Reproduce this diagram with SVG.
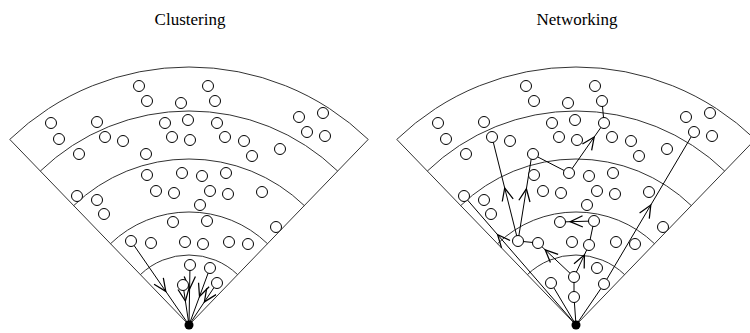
<svg xmlns="http://www.w3.org/2000/svg" xmlns:xlink="http://www.w3.org/1999/xlink" width="750" height="333" viewBox="0 0 750 333">
<style>
.ttl{font-family:"Liberation Serif","Times New Roman",serif;font-size:17px;fill:#000;text-anchor:middle}
.frame{fill:none;stroke:#333;stroke-width:1}
.node circle{fill:#fff;stroke:#000;stroke-width:1}
.cn{fill:none;stroke:#000;stroke-width:1}
.ar{marker-mid:url(#v)}
.apex{fill:#000}
</style>
<defs>
<marker id="v" markerUnits="userSpaceOnUse" markerWidth="20" markerHeight="20" refX="0" refY="0" viewBox="-12 -8 16 16" orient="auto" overflow="visible">
<path d="M-10,-4.5 L0,0 L-10,4.5" fill="none" stroke="#000" stroke-width="1"/>
</marker>
<g id="fan" class="frame">
<path d="M0,0 L-179.22,-185.59 M0,0 L179.22,-185.59"/>
<path d="M-179.22,-185.59 A258,258 0 0,1 179.22,-185.59"/>
<path d="M-148.66,-153.94 A214,214 0 0,1 148.66,-153.94"/>
<path d="M-115.31,-119.41 A166,166 0 0,1 115.31,-119.41"/>
<path d="M-78.5,-81.29 A113,113 0 0,1 78.5,-81.29"/>
<path d="M-48.63,-50.35 A70,70 0 0,1 48.63,-50.35"/>
</g>
</defs>
<text class="ttl" x="190" y="25">Clustering</text>
<text class="ttl" x="577" y="25">Networking</text>
<use xlink:href="#fan" transform="translate(189,325)"/>
<use xlink:href="#fan" transform="translate(576,325)"/>
<g id="connectors">
<polyline class="cn ar" points="131,241 165.8,291.4 189,325"/>
<polyline class="cn ar" points="190,265 189.6,289 189,325"/>
<polyline class="cn ar" points="210,268 199.5,296.5 189,325"/>
<polyline class="cn ar" points="183,285 185.4,301 189,325"/>
<polyline class="cn ar" points="217,283 204.4,301.9 189,325"/>
<polyline class="cn ar" points="576,325 497.6,234.7 464,196"/>
<polyline class="cn" points="576,325 551,283"/>
<polyline class="cn" points="576,325 574,297 574,277"/>
<polyline class="cn ar" points="574,277 545.2,249.8 538,243"/>
<polyline class="cn ar" points="574,277 584.4,254.9 589,245"/>
<polyline class="cn" points="589,245 594,221"/>
<polyline class="cn ar" points="594,221 570.2,221.7 560,222"/>
<polyline class="cn" points="538,243 518,241"/>
<polyline class="cn ar" points="518,241 504.7,188 492,137"/>
<polyline class="cn ar" points="518,241 526.4,188.8 532,154"/>
<polyline class="cn" points="532,154 569,173"/>
<polyline class="cn ar" points="569,173 594.2,137 604,123"/>
<polyline class="cn" points="604,123 602,101"/>
<polyline class="cn" points="576,325 604,284"/>
<polyline class="cn ar" points="604,284 650.8,205 694,132"/>
</g>
<g id="L01" class="node"><circle cx="139" cy="86" r="5.5"/></g>
<g id="L02" class="node"><circle cx="147" cy="101" r="5.5"/></g>
<g id="L03" class="node"><circle cx="181" cy="103" r="5.5"/></g>
<g id="L04" class="node"><circle cx="208" cy="86" r="5.5"/></g>
<g id="L05" class="node"><circle cx="215" cy="101" r="5.5"/></g>
<g id="L06" class="node"><circle cx="51" cy="123" r="5.5"/></g>
<g id="L07" class="node"><circle cx="59" cy="139" r="5.5"/></g>
<g id="L08" class="node"><circle cx="97" cy="122" r="5.5"/></g>
<g id="L09" class="node"><circle cx="299" cy="117" r="5.5"/></g>
<g id="L10" class="node"><circle cx="323" cy="113" r="5.5"/></g>
<g id="L11" class="node"><circle cx="307" cy="132" r="5.5"/></g>
<g id="L12" class="node"><circle cx="325" cy="136" r="5.5"/></g>
<g id="L13" class="node"><circle cx="105" cy="137" r="5.5"/></g>
<g id="L14" class="node"><circle cx="123" cy="141" r="5.5"/></g>
<g id="L15" class="node"><circle cx="79" cy="154" r="5.5"/></g>
<g id="L16" class="node"><circle cx="146" cy="154" r="5.5"/></g>
<g id="L17" class="node"><circle cx="165" cy="123" r="5.5"/></g>
<g id="L18" class="node"><circle cx="172" cy="137" r="5.5"/></g>
<g id="L19" class="node"><circle cx="188" cy="120" r="5.5"/></g>
<g id="L20" class="node"><circle cx="190" cy="140" r="5.5"/></g>
<g id="L21" class="node"><circle cx="217" cy="123" r="5.5"/></g>
<g id="L22" class="node"><circle cx="225" cy="137" r="5.5"/></g>
<g id="L23" class="node"><circle cx="244" cy="141" r="5.5"/></g>
<g id="L24" class="node"><circle cx="252" cy="156" r="5.5"/></g>
<g id="L25" class="node"><circle cx="280" cy="149" r="5.5"/></g>
<g id="L26" class="node"><circle cx="147" cy="175" r="5.5"/></g>
<g id="L27" class="node"><circle cx="182" cy="173" r="5.5"/></g>
<g id="L28" class="node"><circle cx="202" cy="176" r="5.5"/></g>
<g id="L29" class="node"><circle cx="226" cy="173" r="5.5"/></g>
<g id="L30" class="node"><circle cx="156" cy="191" r="5.5"/></g>
<g id="L31" class="node"><circle cx="174" cy="193" r="5.5"/></g>
<g id="L32" class="node"><circle cx="210" cy="191" r="5.5"/></g>
<g id="L33" class="node"><circle cx="228" cy="194" r="5.5"/></g>
<g id="L34" class="node"><circle cx="200" cy="205" r="5.5"/></g>
<g id="L35" class="node"><circle cx="262" cy="192" r="5.5"/></g>
<g id="L36" class="node"><circle cx="77" cy="196" r="5.5"/></g>
<g id="L37" class="node"><circle cx="97" cy="200" r="5.5"/></g>
<g id="L38" class="node"><circle cx="104" cy="214" r="5.5"/></g>
<g id="L39" class="node"><circle cx="173" cy="222" r="5.5"/></g>
<g id="L40" class="node"><circle cx="207" cy="221" r="5.5"/></g>
<g id="L41" class="node"><circle cx="276" cy="227" r="5.5"/></g>
<g id="L42" class="node"><circle cx="131" cy="241" r="5.5"/></g>
<g id="L43" class="node"><circle cx="151" cy="243" r="5.5"/></g>
<g id="L44" class="node"><circle cx="185" cy="242" r="5.5"/></g>
<g id="L45" class="node"><circle cx="203" cy="244" r="5.5"/></g>
<g id="L46" class="node"><circle cx="229" cy="242" r="5.5"/></g>
<g id="L47" class="node"><circle cx="248" cy="244" r="5.5"/></g>
<g id="L48" class="node"><circle cx="190" cy="265" r="5.5"/></g>
<g id="L49" class="node"><circle cx="210" cy="268" r="5.5"/></g>
<g id="L50" class="node"><circle cx="183" cy="285" r="5.5"/></g>
<g id="L51" class="node"><circle cx="217" cy="283" r="5.5"/></g>
<g id="R01" class="node"><circle cx="526" cy="86" r="5.5"/></g>
<g id="R02" class="node"><circle cx="534" cy="101" r="5.5"/></g>
<g id="R03" class="node"><circle cx="568" cy="103" r="5.5"/></g>
<g id="R04" class="node"><circle cx="595" cy="86" r="5.5"/></g>
<g id="R05" class="node"><circle cx="602" cy="101" r="5.5"/></g>
<g id="R06" class="node"><circle cx="438" cy="123" r="5.5"/></g>
<g id="R07" class="node"><circle cx="446" cy="139" r="5.5"/></g>
<g id="R08" class="node"><circle cx="484" cy="122" r="5.5"/></g>
<g id="R09" class="node"><circle cx="686" cy="117" r="5.5"/></g>
<g id="R10" class="node"><circle cx="710" cy="113" r="5.5"/></g>
<g id="R11" class="node"><circle cx="694" cy="132" r="5.5"/></g>
<g id="R12" class="node"><circle cx="712" cy="136" r="5.5"/></g>
<g id="R13" class="node"><circle cx="492" cy="137" r="5.5"/></g>
<g id="R14" class="node"><circle cx="510" cy="141" r="5.5"/></g>
<g id="R15" class="node"><circle cx="466" cy="154" r="5.5"/></g>
<g id="R16" class="node"><circle cx="533" cy="154" r="5.5"/></g>
<g id="R17" class="node"><circle cx="552" cy="123" r="5.5"/></g>
<g id="R18" class="node"><circle cx="559" cy="137" r="5.5"/></g>
<g id="R19" class="node"><circle cx="575" cy="120" r="5.5"/></g>
<g id="R20" class="node"><circle cx="577" cy="140" r="5.5"/></g>
<g id="R21" class="node"><circle cx="604" cy="123" r="5.5"/></g>
<g id="R22" class="node"><circle cx="612" cy="137" r="5.5"/></g>
<g id="R23" class="node"><circle cx="631" cy="141" r="5.5"/></g>
<g id="R24" class="node"><circle cx="639" cy="156" r="5.5"/></g>
<g id="R25" class="node"><circle cx="667" cy="149" r="5.5"/></g>
<g id="R26" class="node"><circle cx="534" cy="175" r="5.5"/></g>
<g id="R27" class="node"><circle cx="569" cy="173" r="5.5"/></g>
<g id="R28" class="node"><circle cx="589" cy="176" r="5.5"/></g>
<g id="R29" class="node"><circle cx="613" cy="173" r="5.5"/></g>
<g id="R30" class="node"><circle cx="543" cy="191" r="5.5"/></g>
<g id="R31" class="node"><circle cx="561" cy="193" r="5.5"/></g>
<g id="R32" class="node"><circle cx="597" cy="191" r="5.5"/></g>
<g id="R33" class="node"><circle cx="615" cy="194" r="5.5"/></g>
<g id="R34" class="node"><circle cx="587" cy="205" r="5.5"/></g>
<g id="R35" class="node"><circle cx="649" cy="192" r="5.5"/></g>
<g id="R36" class="node"><circle cx="464" cy="196" r="5.5"/></g>
<g id="R37" class="node"><circle cx="484" cy="200" r="5.5"/></g>
<g id="R38" class="node"><circle cx="491" cy="214" r="5.5"/></g>
<g id="R39" class="node"><circle cx="560" cy="222" r="5.5"/></g>
<g id="R40" class="node"><circle cx="594" cy="221" r="5.5"/></g>
<g id="R41" class="node"><circle cx="663" cy="227" r="5.5"/></g>
<g id="R42" class="node"><circle cx="518" cy="241" r="5.5"/></g>
<g id="R43" class="node"><circle cx="538" cy="243" r="5.5"/></g>
<g id="R44" class="node"><circle cx="572" cy="242" r="5.5"/></g>
<g id="R45" class="node"><circle cx="589" cy="245" r="5.5"/></g>
<g id="R46" class="node"><circle cx="616" cy="242" r="5.5"/></g>
<g id="R47" class="node"><circle cx="635" cy="244" r="5.5"/></g>
<g id="R48" class="node"><circle cx="551" cy="283" r="5.5"/></g>
<g id="R49" class="node"><circle cx="574" cy="277" r="5.5"/></g>
<g id="R50" class="node"><circle cx="574" cy="297" r="5.5"/></g>
<g id="R51" class="node"><circle cx="597" cy="268" r="5.5"/></g>
<g id="R52" class="node"><circle cx="604" cy="284" r="5.5"/></g>
<g id="apexL"><circle class="apex" cx="189" cy="325" r="4.5"/></g>
<g id="apexR"><circle class="apex" cx="576" cy="325" r="4.5"/></g>
</svg>
